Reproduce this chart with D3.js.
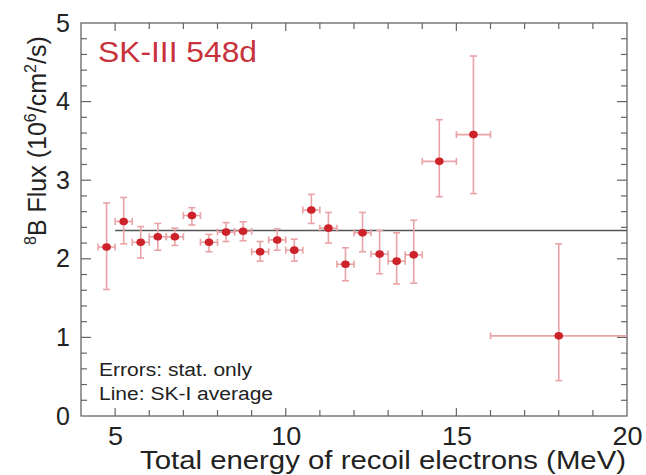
<!DOCTYPE html>
<html><head><meta charset="utf-8">
<script src="https://cdn.jsdelivr.net/npm/d3@7"></script>
<style>body{margin:0;background:#fff}svg{display:block;font-family:"Liberation Sans",Arial,Helvetica,sans-serif}</style>
</head><body><svg id="c" width="646" height="475"></svg>
<script>
const energy  = [4.75,5.25,5.75,6.25,6.75,7.25,7.75,8.25,8.75,9.25,9.75,10.25,10.75,11.25,11.75,12.25,12.75,13.25,13.75,14.5,15.5,18];
const halfBin = [0.25,0.25,0.25,0.25,0.25,0.25,0.25,0.25,0.25,0.25,0.25,0.25,0.25,0.25,0.25,0.25,0.25,0.25,0.25,0.5,0.5,2];
const flux    = [2.15,2.475,2.21,2.28,2.28,2.55,2.21,2.34,2.35,2.09,2.24,2.11,2.62,2.39,1.93,2.33,2.06,1.97,2.05,3.24,3.58,1.02];
const errUp   = [2.71,2.78,2.41,2.45,2.39,2.65,2.31,2.46,2.47,2.22,2.38,2.25,2.82,2.59,2.14,2.59,2.36,2.33,2.49,3.77,4.58,2.19];
const errDn   = [1.61,2.19,2.01,2.11,2.17,2.43,2.09,2.22,2.23,1.97,2.11,1.97,2.45,2.20,1.72,2.09,1.81,1.68,1.69,2.79,2.83,0.45];
const skIAverage = 2.36;
const xTicks = [5,10,15,20];
const yTicks = [0,1,2,3,4,5];

const svg = d3.select("#c");
const x = d3.scaleLinear().domain([4,20]).range([81,627]);
const y = d3.scaleLinear().domain([0,5]).range([416,23]);
const axisCol = "#666";

// frame
svg.append("rect").attr("x",81).attr("y",23).attr("width",546).attr("height",393)
  .attr("fill","none").attr("stroke",axisCol).attr("stroke-width",1.3);

// ticks
const g = svg.append("g").attr("stroke",axisCol).attr("stroke-width",1.2);
d3.range(5,20,1).forEach(v=>{
  const len = (v%5===0)?8:6;
  g.append("line").attr("x1",x(v)).attr("x2",x(v)).attr("y1",416).attr("y2",416-len);
  g.append("line").attr("x1",x(v)).attr("x2",x(v)).attr("y1",23).attr("y2",23+len);
});
d3.range(0.2,5,0.2).forEach(v=>{
  const major = Math.abs(v-Math.round(v))<1e-6;
  const len = major?10:6;
  g.append("line").attr("x1",81).attr("x2",81+len).attr("y1",y(v)).attr("y2",y(v));
  g.append("line").attr("x1",627).attr("x2",627-len).attr("y1",y(v)).attr("y2",y(v));
});

// tick labels via axes (no lines)
const xa = svg.append("g").attr("transform","translate(0,416)")
  .call(d3.axisBottom(x).tickValues(xTicks).tickSize(0).tickPadding(11).tickFormat(d3.format("d")));
xa.select(".domain").remove();
xa.selectAll("text").attr("font-size",25).attr("fill","#222").attr("font-family","Liberation Sans, Arial, sans-serif")
  .attr("transform","scale(1.08,1)");
const ya = svg.append("g").attr("transform","translate(81,0)")
  .call(d3.axisLeft(y).tickValues(yTicks).tickSize(0).tickPadding(11).tickFormat(d3.format("d")));
ya.select(".domain").remove();
ya.selectAll("text").attr("font-size",25).attr("fill","#222").attr("font-family","Liberation Sans, Arial, sans-serif");

// axis titles
svg.append("text").attr("x",140).attr("y",469)
  .attr("font-size",25).attr("fill","#222")
  .attr("textLength",486).attr("lengthAdjust","spacingAndGlyphs")
  .text("Total energy of recoil electrons (MeV)");
const yt = svg.append("text").attr("transform","translate(46,245) rotate(-90)")
  .attr("font-size",25).attr("fill","#222");
yt.append("tspan").attr("font-size",16).attr("dy",-10).text("8");
yt.append("tspan").attr("dy",10).text("B Flux (10");
yt.append("tspan").attr("font-size",16).attr("dy",-10).text("6");
yt.append("tspan").attr("dy",10).text("/cm");
yt.append("tspan").attr("font-size",16).attr("dy",-10).text("2");
yt.append("tspan").attr("dy",10).text("/s)");

// SK-I average line
svg.append("line").attr("x1",x(5)).attr("x2",x(20)).attr("y1",y(skIAverage)).attr("y2",y(skIAverage))
  .attr("stroke","#555").attr("stroke-width",1.3);

// error bars
const errCol = "#e9a3a6", cap = 3.5;
const eb = svg.append("g").attr("stroke",errCol).attr("stroke-width",1.6).attr("fill","none");
energy.forEach((e,i)=>{
  const cx = x(e), cy = y(flux[i]);
  eb.append("line").attr("x1",cx).attr("x2",cx).attr("y1",y(errUp[i])).attr("y2",y(errDn[i]));
  eb.append("line").attr("x1",cx-cap).attr("x2",cx+cap).attr("y1",y(errUp[i])).attr("y2",y(errUp[i]));
  eb.append("line").attr("x1",cx-cap).attr("x2",cx+cap).attr("y1",y(errDn[i])).attr("y2",y(errDn[i]));
  const xl = x(e-halfBin[i]), xr = x(e+halfBin[i]);
  eb.append("line").attr("x1",xl).attr("x2",xr).attr("y1",cy).attr("y2",cy);
  eb.append("line").attr("x1",xl).attr("x2",xl).attr("y1",cy-cap).attr("y2",cy+cap);
  if (e+halfBin[i] < 20) eb.append("line").attr("x1",xr).attr("x2",xr).attr("y1",cy-cap).attr("y2",cy+cap);
});

// points
svg.append("g").selectAll("ellipse").data(energy).join("ellipse")
  .attr("cx",d=>x(d)).attr("cy",(d,i)=>y(flux[i])).attr("rx",4.3).attr("ry",3.8)
  .attr("fill","#cc2229");

// annotations
svg.append("text").attr("x",98).attr("y",62).attr("font-size",30).attr("fill","#c8323a")
  .attr("textLength",159).attr("lengthAdjust","spacingAndGlyphs").text("SK-III 548d");
svg.append("text").attr("x",99).attr("y",376).attr("font-size",18).attr("fill","#222")
  .attr("textLength",153).attr("lengthAdjust","spacingAndGlyphs").text("Errors: stat. only");
svg.append("text").attr("x",99).attr("y",400).attr("font-size",18).attr("fill","#222")
  .attr("textLength",174).attr("lengthAdjust","spacingAndGlyphs").text("Line: SK-I average");
</script></body></html>
